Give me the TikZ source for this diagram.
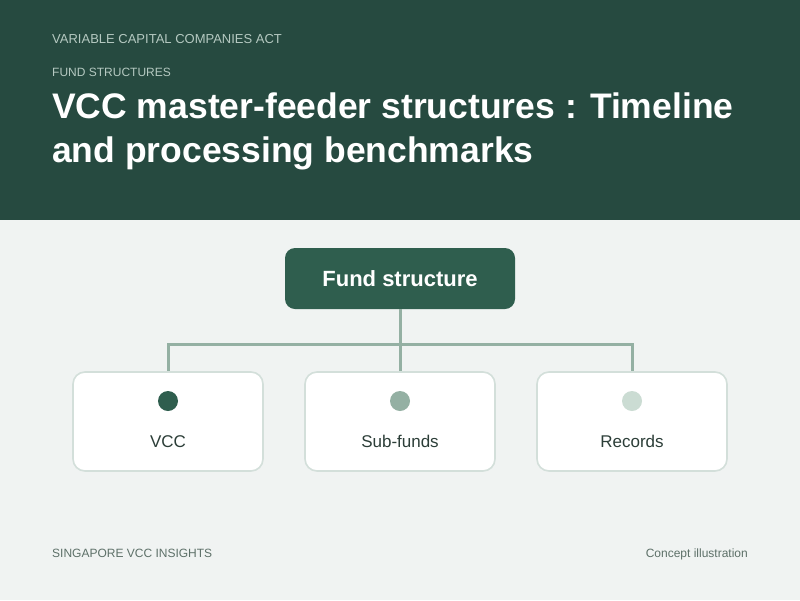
\documentclass[tikz,border=0pt]{standalone}
\usepackage{fontspec}
\setmainfont{Liberation Sans}
\definecolor{hdr}{HTML}{264A40}
\definecolor{bg}{HTML}{F0F3F2}
\definecolor{kick}{HTML}{B5C9C1}
\definecolor{rootc}{HTML}{2F5E4E}
\definecolor{linec}{HTML}{94B0A3}
\definecolor{boxline}{HTML}{D3DFDA}
\definecolor{dot1}{HTML}{2F5E4E}
\definecolor{dot2}{HTML}{94B0A3}
\definecolor{dot3}{HTML}{CBDCD3}
\definecolor{lbl}{HTML}{2C3E38}
\definecolor{foot}{HTML}{5D7068}
\begin{document}
\begin{tikzpicture}[x=1pt,y=-1pt,
  kicker/.style={anchor=base west,inner sep=0pt,text=kick},
  titletext/.style={anchor=base west,inner sep=0pt,text=white,font=\bfseries\fontsize{35.5}{44}\selectfont},
  rootbox/.style={draw=none,fill=rootc,rounded corners=10pt,minimum width=230pt,minimum height=61pt,text=white,font=\bfseries\fontsize{22}{26}\selectfont},
  leafbox/.style={draw=boxline,line width=1.6pt,fill=white,rounded corners=12pt,minimum width=190pt,minimum height=99pt},
  conn/.style={draw=linec,line width=3pt},
  leaflabel/.style={text=lbl,font=\fontsize{17}{20}\selectfont,anchor=base,inner sep=0pt},
  footer/.style={text=foot,font=\fontsize{12}{14}\selectfont,anchor=base,inner sep=0pt}]
\useasboundingbox (0,0) rectangle (800,600);
\fill[bg] (0,0) rectangle (800,600);
\fill[hdr] (0,0) rectangle (800,220);
\node[kicker,font=\fontsize{13}{15}\selectfont] (k1) at (52,43) {VARIABLE CAPITAL COMPANIES ACT};
\node[kicker,font=\fontsize{12}{14}\selectfont] (k2) at (52,76) {FUND STRUCTURES};
\node[titletext] (t1) at (52,118) {VCC master-feeder structures : Timeline};
\node[titletext] (t2) at (52,162) {and processing benchmarks};
\node[rootbox] (root) at (400,278.5) {Fund structure};
\node[leafbox] (b1) at (168,421.5) {};
\node[leafbox] (b2) at (400,421.5) {};
\node[leafbox] (b3) at (632,421.5) {};
\coordinate (j) at (400,344);
\draw[conn] (root.south) -- (j);
\draw[conn] (b1.north) -- (b1.north |- j) -- (b3.north |- j) -- (b3.north);
\draw[conn] (j) -- (b2.north);
\fill[dot1] (168,401) circle (10);
\fill[dot2] (400,401) circle (10);
\fill[dot3] (632,401) circle (10);
\node[leaflabel] (l1) at (168,447) {VCC};
\node[leaflabel] (l2) at (400,447) {Sub-funds};
\node[leaflabel] (l3) at (632,447) {Records};
\node[footer,anchor=base west] (f1) at (52,557) {SINGAPORE VCC INSIGHTS};
\node[footer,anchor=base east] (f2) at (748,557) {Concept illustration};
\end{tikzpicture}
\end{document}
